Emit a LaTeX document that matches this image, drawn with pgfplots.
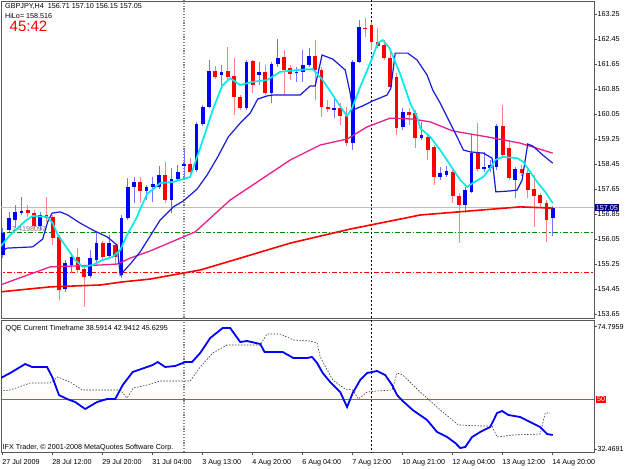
\documentclass[border=0pt]{standalone}
\usepackage{fontspec}
\setmainfont{Liberation Sans}
\usepackage{pgfplots}
\pgfplotsset{compat=1.18}
\usepackage{pgfplotstable}
\definecolor{mtblue}{RGB}{0,0,255}
\definecolor{mtred}{RGB}{255,0,0}
\definecolor{hilo}{RGB}{25,25,215}
\definecolor{maPink}{RGB}{235,30,140}
\definecolor{maCyan}{RGB}{0,235,235}
\definecolor{navybox}{RGB}{0,0,128}
\definecolor{sepgreen}{RGB}{0,140,0}
\newcommand\sm{\fontsize{7.2bp}{8.5bp}\selectfont}

% i open high low close (bullish candles)
\pgfplotstableread{
i o h l c
0 155.54 156.40 155.44 156.24
1 156.34 156.92 156.28 156.72
2 156.66 157.14 156.40 156.92
3 156.88 157.40 156.82 156.95
6 156.47 156.92 156.34 156.82
10 154.45 155.38 154.36 155.28
11 155.22 155.60 154.96 155.48
14 154.87 155.70 154.80 155.44
15 155.38 156.28 155.32 155.92
17 155.51 156.18 155.44 155.92
19 154.90 156.82 154.80 156.72
20 156.72 158.00 156.66 157.72
21 157.72 158.04 157.20 157.88
23 157.59 157.78 157.30 157.72
24 157.72 158.04 157.24 157.81
25 157.72 158.39 157.65 158.10
27 157.30 158.32 156.88 157.97
28 157.97 158.42 157.91 158.20
29 158.39 158.90 158.00 158.45
31 158.26 159.80 158.20 159.73
32 159.73 160.34 159.67 160.28
33 160.28 161.78 160.24 161.43
35 161.30 161.62 160.98 161.40
39 160.24 161.78 160.18 161.72
41 161.30 161.72 160.98 161.40
43 160.72 161.72 160.40 161.65
44 161.65 162.45 161.56 161.84
47 161.36 161.56 161.08 161.40
48 161.40 162.10 161.08 161.62
49 161.62 162.16 161.56 161.91
53 160.18 160.53 159.92 160.24
56 159.12 161.78 158.90 161.72
57 161.72 163.06 161.68 162.84
64 159.64 160.24 159.54 160.12
67 159.28 159.80 159.22 159.38
70 158.04 158.36 157.94 158.16
71 158.10 158.39 158.04 158.23
74 157.14 157.72 156.88 157.62
75 157.56 159.38 157.52 158.80
77 158.29 158.84 158.20 158.36
78 158.32 158.58 158.20 158.42
79 158.36 159.73 158.26 159.67
82 157.94 158.36 157.36 158.29
88 156.71 157.10 156.15 157.05
}\bull

% i open high low close (bearish candles)
\pgfplotstableread{
i o h l c
4 156.98 157.14 156.76 156.88
5 156.88 156.98 156.37 156.47
7 156.82 157.40 156.60 156.72
8 156.76 156.82 155.86 156.08
9 156.12 156.18 154.10 154.42
12 155.48 155.76 154.96 155.06
13 155.09 155.19 153.88 154.84
16 155.92 155.99 155.41 155.48
18 155.86 155.92 155.22 155.48
22 157.88 158.04 157.20 157.59
26 158.10 158.52 157.20 157.30
30 158.45 158.64 158.13 158.20
34 161.43 161.59 161.17 161.24
36 161.43 162.20 161.14 161.24
37 161.27 161.84 160.02 160.60
38 160.60 160.66 160.18 160.24
40 161.75 161.78 160.72 160.98
42 161.40 161.62 160.66 160.72
45 161.88 162.10 160.66 161.46
46 161.52 161.62 161.14 161.33
50 161.91 162.42 160.50 161.46
51 161.46 161.56 159.96 160.28
52 160.28 160.50 160.12 160.21
54 160.24 160.40 159.70 159.99
55 159.99 160.28 159.03 159.12
58 162.80 163.12 162.52 162.77
59 162.90 163.00 162.10 162.36
60 162.36 162.80 162.16 162.23
61 162.26 162.42 161.78 161.84
62 161.84 162.04 160.82 160.92
63 161.24 161.36 159.38 159.60
65 160.12 160.24 159.70 160.02
66 160.08 160.18 158.96 159.28
68 159.32 159.38 158.58 158.90
69 158.99 159.06 157.78 158.04
72 158.20 158.26 157.20 157.43
73 157.43 157.52 155.92 157.14
76 158.80 159.76 158.23 158.29
80 159.67 160.34 158.68 158.74
81 158.96 159.22 157.94 158.00
83 158.29 158.42 158.07 158.16
84 158.16 158.26 157.36 157.62
85 157.65 158.10 156.44 157.43
86 157.46 157.52 157.04 157.20
87 157.20 157.30 155.96 156.66
}\bear

\pgfplotsset{candle/.style={draw=none, mark=none, forget plot,
  error bars/.cd, y dir=plus, y explicit, error mark=none}}

\begin{document}
\begin{tikzpicture}
\useasboundingbox[fill=white] (0,0) rectangle (625bp,-469bp);

% ================= main price panel =================
\begin{axis}[
  at={(1bp,-1bp)}, anchor=north west,
  width=593bp, height=317bp, scale only axis,
  xmin=-0.272, xmax=94.608, ymin=153.524, ymax=163.668,
  xtick=\empty,
  ytick={153.65,154.45,155.25,156.05,156.85,157.65,158.45,159.25,160.05,160.85,161.65,162.45,163.25},
  ytick pos=right, yticklabel pos=right,
  tick align=outside, major tick length=2.5bp,
  yticklabel style={font=\sm, anchor=west, inner sep=0pt, xshift=1bp,
    /pgf/number format/.cd, fixed, fixed zerofill, precision=2, assume math mode=true},
  axis line style={black!65, line width=0.8bp},
  every tick/.style={black!70, line width=0.6bp},
  clip mode=individual,
]
% horizontal levels
\addplot[black!25, line width=0.7bp, forget plot] coordinates {(-1,157.05) (96,157.05)};
\addplot[sepgreen, line width=0.7bp, dash pattern=on 5bp off 2bp on 1.5bp off 2bp, forget plot] coordinates {(-1,156.25) (96,156.25)};
\addplot[mtred, line width=0.7bp, dash pattern=on 5bp off 2bp on 1.5bp off 2bp, forget plot] coordinates {(-1,154.98) (96,154.98)};
% separators
\addplot[black!50, line width=1.1bp, dash pattern=on 1.2bp off 1.6bp, forget plot] coordinates {(29,153) (29,164)};
\addplot[black, line width=0.6bp, dash pattern=on 2bp off 2bp, forget plot] coordinates {(59,153) (59,164)};

% wicks
\addplot[candle, error bar style={line width=0.9bp, draw=mtblue!55}]
  table[x=i, y=l, y error expr=\thisrow{h}-\thisrow{l}] {\bull};
\addplot[candle, error bar style={line width=0.9bp, draw=mtred!50}]
  table[x=i, y=l, y error expr=\thisrow{h}-\thisrow{l}] {\bear};
% bodies
\addplot[candle, error bar style={line width=3.8bp, draw=mtblue}]
  table[x=i, y=o, y error expr=\thisrow{c}-\thisrow{o}] {\bull};
\addplot[candle, error bar style={line width=3.8bp, draw=mtred}]
  table[x=i, y=c, y error expr=\thisrow{o}-\thisrow{c}] {\bear};

% slow MA (red)
\addplot[mtred, line width=1.6bp] coordinates {
(-0.4,154.36) (7.6,154.52) (15.6,154.58) (19.2,154.68) (23.6,154.77) (31.6,155.06)
(37.5,155.41) (46.0,155.92) (55.6,156.37) (63.6,156.69) (66.8,156.82) (74.8,156.95)
(82.8,157.08) (88.0,157.04)};
% medium MA (pink)
\addplot[maPink, line width=1.3bp] coordinates {
(-0.4,154.58) (7.6,155.16) (15.6,155.22) (18.3,155.25) (20.4,155.44) (23.6,155.67)
(30.8,156.28) (36.4,157.30) (41.2,157.94) (46.0,158.58) (50.8,159.06) (55.1,159.25)
(58.3,159.64) (62.0,159.92) (65.6,159.89) (68.4,159.80) (72.0,159.51) (77.5,159.32)
(82.8,159.12) (88.0,158.80)};
% HiLo (blue)
\addplot[hilo, line width=1.2bp] coordinates {
(-0.4,155.64) (0.7,155.76) (4.8,155.80) (6.4,156.05) (7.2,156.60) (7.9,156.88)
(9.2,156.92) (10.4,156.82) (12.4,156.56) (14.4,156.34) (16.7,156.12) (18.3,155.86)
(18.8,154.90) (20.4,155.25) (22.0,155.64) (23.6,156.15) (25.2,156.66) (27.3,157.08)
(28.9,157.27) (30.0,157.46) (31.1,157.65) (32.7,158.10) (34.3,158.64) (36.1,159.32)
(38.0,159.76) (39.6,160.08) (40.8,160.53) (42.3,160.63) (43.3,160.66) (46.0,160.66)
(47.6,160.66) (49.2,160.95) (50.0,160.95) (51.1,161.94) (52.8,161.81) (54.8,161.46)
(55.6,160.72) (56.0,160.18) (57.6,160.31) (59.2,160.47) (61.5,160.66) (62.1,160.88)
(62.8,162.00) (64.8,162.00) (66.3,161.78) (67.9,161.30) (68.8,160.82) (70.0,160.40)
(71.6,159.76) (72.7,159.32) (73.7,158.90) (74.8,158.84) (76.9,158.80) (78.3,158.64)
(78.9,157.56) (81.2,157.59) (82.3,157.62) (83.1,157.94) (84.0,159.09) (84.8,159.03)
(86.4,158.74) (88.0,158.48)};
% fast MA (cyan)
\addplot[maCyan, line width=1.7bp] coordinates {
(-0.4,155.80) (1.2,156.18) (3.6,156.63) (4.8,156.79) (7.1,156.76) (8.0,156.56)
(8.8,156.18) (10.3,155.76) (11.6,155.38) (12.8,155.16) (14.4,155.22) (16.0,155.38)
(17.6,155.48) (18.8,155.70) (19.9,156.18) (21.5,156.76) (22.0,157.01) (23.1,157.49)
(25.2,157.84) (27.3,157.88) (28.9,157.97) (30.0,158.04) (31.1,158.68) (32.4,159.44)
(33.6,160.18) (35.1,160.95) (36.4,161.20) (38.0,160.98) (40.0,161.08) (42.3,161.14)
(44.4,161.40) (47.1,161.46) (49.6,161.49) (51.2,161.14) (52.8,160.66) (54.4,160.18)
(55.1,159.99) (55.9,160.24) (57.2,160.92) (58.8,161.68) (60.0,162.32) (60.8,162.42)
(61.9,162.16) (63.6,161.33) (65.2,160.40) (66.3,159.96) (66.8,159.60) (68.4,159.32)
(70.0,158.90) (71.6,158.42) (73.2,157.94) (74.3,157.72) (75.2,157.84) (76.9,158.04)
(78.0,158.32) (78.8,158.58) (80.0,158.68) (82.3,158.64) (83.3,158.52) (84.4,158.20)
(85.5,157.88) (86.8,157.56) (88.0,157.20)};
\end{axis}

% ================= QQE panel =================
\begin{axis}[
  at={(1bp,-320bp)}, anchor=north west,
  width=593bp, height=132bp, scale only axis,
  xmin=-0.272, xmax=94.608, ymin=31.93, ymax=77.19,
  ytick=\empty,
  xtick={0,8,...,88},
  xticklabels={27 Jul 2009,28 Jul 12:00,29 Jul 20:00,31 Jul 04:00,3 Aug 13:00,4 Aug 20:00,6 Aug 04:00,7 Aug 12:00,10 Aug 21:00,12 Aug 04:00,13 Aug 12:00,14 Aug 20:00},
  xtick pos=bottom, tick align=outside, major tick length=3bp,
  xticklabel style={font=\sm, anchor=north west, inner sep=0pt, xshift=-0.5bp, yshift=-4bp},
  axis line style={black!65, line width=0.8bp},
  every tick/.style={black!70, line width=0.6bp},
  clip mode=individual,
]
\addplot[mtred!80, line width=0.7bp, forget plot] coordinates {(-1,50) (96,50)};
\addplot[black!50, line width=1.1bp, dash pattern=on 1.2bp off 1.6bp, forget plot] coordinates {(29,30) (29,80)};
\addplot[black, line width=0.6bp, dash pattern=on 2bp off 2bp, forget plot] coordinates {(59,30) (59,80)};
% signal (dotted)
\addplot[black!80, line width=0.6bp, dash pattern=on 1.5bp off 1.5bp] coordinates {
(-0.4,52.85) (1.2,53.19) (4.4,55.59) (7.6,55.59) (8.8,57.65) (10.8,55.93) (12.7,53.19)
(15.6,53.19) (18.8,53.19) (19.9,50.45) (20.9,53.88) (23.1,54.90) (25.2,56.28) (30.0,56.28)
(31.6,61.08) (33.6,65.88) (35.9,68.62) (41.2,68.62) (42.3,72.39) (44.4,72.39) (46.5,70.34)
(49.2,69.99) (50.3,69.31) (50.8,64.51) (52.8,56.62) (54.8,53.53) (56.0,53.19) (56.9,50.10)
(58.3,52.50) (59.9,52.85) (62.3,53.19) (63.1,59.02) (64.0,58.33) (66.8,52.50) (70.0,46.33)
(72.9,41.22) (76.4,40.84) (78.3,40.84) (79.1,37.07) (81.6,37.76) (86.0,38.10) (86.8,45.30)
(87.6,45.30)};
% QQE main (blue)
\addplot[mtblue, line width=1.8bp] coordinates {
(-0.4,57.20) (1.2,59.02) (3.6,62.11) (4.7,61.08) (7.1,61.08) (8.0,57.30) (9.0,51.47)
(10.3,50.10) (11.6,49.07) (13.2,46.67) (15.1,49.07) (16.7,50.10) (18.0,50.10) (19.2,54.90)
(20.8,59.36) (23.1,61.08) (24.0,61.76) (24.8,62.79) (26.0,61.08) (27.6,61.42) (29.2,62.79)
(30.3,62.79) (31.6,65.88) (33.2,71.02) (35.2,74.45) (36.4,74.45) (38.0,69.65) (39.1,69.99)
(41.2,68.96) (41.9,66.22) (44.8,66.22) (46.5,64.16) (48.7,64.16) (49.5,64.51) (50.3,62.45)
(51.2,59.02) (52.4,55.93) (54.0,52.50) (55.1,47.36) (56.0,52.16) (57.2,56.62) (58.3,59.02)
(59.9,59.71) (61.2,58.33) (62.3,54.90) (63.1,51.47) (64.0,49.42) (65.6,46.33) (67.9,42.90)
(69.5,38.79) (71.1,37.07) (72.4,35.05) (73.2,33.30) (74.0,33.64) (75.1,37.07) (76.4,38.79)
(78.0,40.50) (79.1,45.30) (79.9,45.99) (80.9,44.62) (82.8,43.93) (84.4,42.22) (86.0,40.50)
(87.1,38.10) (88.0,37.76)};
\end{axis}

% ================= texts =================
\node[anchor=west, inner sep=0pt] at (5bp,-6.7bp) {\sm GBPJPY,H4\ \ 156.71 157.10 156.15 157.05};
\node[anchor=west, inner sep=0pt] at (5bp,-16bp) {\sm HiLo= 158.516};
\node[anchor=west, inner sep=0pt, text=mtred] at (9.5bp,-26bp) {\fontsize{15bp}{15bp}\selectfont 45:42};
\node[anchor=west, inner sep=0pt, text=black!55] at (12bp,-229bp) {\sm 1.4198097};
\node[anchor=west, inner sep=0pt] at (5.5bp,-328.5bp) {\sm QQE Current Timeframe 38.5914 42.9412 45.6295};
\node[anchor=west, inner sep=0pt] at (2.5bp,-447.5bp) {\sm IFX Trader, \textcopyright{} 2001-2008 MetaQuotes Software Corp.};

% right scale boxes / labels
\node[anchor=west, fill=navybox, text=white, inner xsep=1.2bp, inner ysep=1bp] at (594.5bp,-207.8bp) {\sm 157.05};
\draw[black!70, line width=0.6bp] (594bp,-326.5bp) -- (596.5bp,-326.5bp);
\node[anchor=west, inner sep=0pt] at (597.5bp,-327bp) {\sm 74.7959};
\node[anchor=west, fill=mtred, text=white, inner xsep=1bp, inner ysep=0.8bp] at (596bp,-399.3bp) {\sm 50};
\draw[black!70, line width=0.6bp] (594bp,-449bp) -- (596.5bp,-449bp);
\node[anchor=west, inner sep=0pt] at (597.5bp,-449.5bp) {\sm 32.4691};
\end{tikzpicture}
\end{document}
